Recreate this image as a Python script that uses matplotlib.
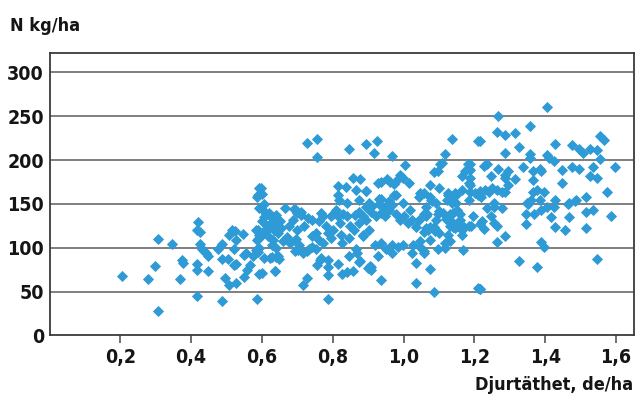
import matplotlib
matplotlib.use("Agg")
import matplotlib.pyplot as plt
from matplotlib.ticker import FixedLocator

x_ticks = [0.2, 0.4, 0.6, 0.8, 1.0, 1.2, 1.4, 1.6]
x_tick_labels = ["0,2", "0,4", "0,6", "0,8", "1,0", "1,2", "1,4", "1,6"]
y_ticks = [0, 50, 100, 150, 200, 250, 300]
y_label = "N kg/ha"
x_label = "Djurtäthet, de/ha"

pts_a = [(0.206,68),(0.277,64),(0.297,79),(0.307,110),(0.307,28),(0.345,104),(0.368,64),(0.375,86),
         (0.377,83),(0.416,81),(0.416,75),(0.416,45),(0.42,129),(0.416,120),(0.426,118),(0.424,104),
         (0.431,99),(0.437,96),(0.443,94),(0.448,90),(0.447,74),(0.477,99),(0.486,104),(0.486,87),(0.487,39),
         (0.497,66),(0.505,87),(0.507,58),(0.508,115),(0.516,120),(0.52,99),(0.525,119),(0.527,109),
         (0.52,80),(0.527,82),(0.527,60),(0.546,116),(0.548,92),(0.555,94),(0.548,67),(0.557,75),(0.565,80),
         (0.576,90),(0.584,97),(0.584,120),(0.585,109),(0.587,41),(0.587,158),(0.591,145),(0.591,168),
         (0.591,70)]
pts_b = [(0.597,168),(0.59,160),(0.6,161),(0.606,150),(0.6,144),(0.59,120),(0.592,115),(0.59,110),
         (0.593,100),(0.59,95),(0.606,88),(0.6,71),(0.6,130),(0.605,135),(0.612,138),(0.62,140),
         (0.599,115),(0.608,120)]
pts_c = [(0.63,135),(0.638,132),(0.627,89),(0.64,89),(0.638,74),(0.64,100),(0.617,113),(0.63,109),
         (0.627,103),(0.646,117),(0.623,88),(0.646,90),(0.636,74),(0.647,87),(0.666,145),(0.691,144),
         (0.7,140),(0.62,137),(0.64,137),(0.615,125),(0.625,128),(0.64,126),(0.65,130),(0.62,122),
         (0.635,120),(0.655,122),(0.687,132),(0.711,137),(0.709,141),(0.73,134),(0.741,132),(0.696,143),
         (0.696,110),(0.706,103),(0.717,94),(0.734,99),(0.741,113),(0.694,96),(0.703,97),(0.726,96),
         (0.753,99),(0.741,101),(0.726,66),(0.715,57),(0.726,220),(0.756,224),(0.756,203),(0.68,105),
         (0.67,112),(0.66,108),(0.676,125),(0.70,120),(0.72,125)]
pts_d = [(0.753,117),(0.762,109),(0.771,105),(0.786,117),(0.795,111),(0.8,120),(0.822,115),(0.826,105),
         (0.766,140),(0.773,136),(0.794,136),(0.8,139),(0.809,143),(0.815,136),(0.83,138),(0.839,136),
         (0.816,170),(0.837,169),(0.856,179),(0.877,178),(0.865,166),(0.895,165),(0.815,160),(0.818,154),
         (0.839,151),(0.873,154),(0.756,80),(0.766,88),(0.786,78),(0.786,69),(0.816,82),(0.826,70),
         (0.839,72),(0.856,74),(0.845,90),(0.875,84),(0.907,78),(0.907,75),(0.786,42),(0.764,86),
         (0.786,86),(0.867,94),(0.877,85),(0.9,77),(0.845,213),(0.895,218),(0.925,222),(0.916,208),
         (0.967,205),(0.846,111),(0.865,99),(0.886,113),(0.903,120),(0.918,103),(0.863,137),(0.875,141),
         (0.884,136),(0.895,132),(0.903,146),(0.908,141),(0.923,136),(0.937,140),(0.948,136),(0.959,143),
         (0.978,139),(0.991,132),(0.903,151),(0.912,148),(0.893,147),(0.937,156),(0.959,153),(0.948,147),
         (0.968,149),(0.978,160),(0.927,174),(0.937,175),(0.954,178),(0.963,175),(0.972,173),(0.99,183),
         (0.997,179),(0.984,178),(1.015,174),(1.004,194),(0.82,128),(0.85,125),(0.86,120),(0.78,125),
         (0.76,130),(0.875,128),(0.886,115),(0.93,155),(0.93,150),(0.974,160),(0.893,165)]
pts_e = [(0.937,105),(0.95,99),(0.968,103),(0.984,101),(0.997,103),(1.027,103),(1.047,101),(1.057,96),
         (1.075,109),(1.091,120),(0.927,90),(0.967,94),(1.096,98),(1.117,100),(1.117,105),(1.168,97),
         (1.046,108),(1.087,49),(1.036,60),(0.937,63),(1.075,76),(1.036,83),(0.906,79),(1.023,94),
         (1.057,94),(1.0,136),(1.012,128),(1.023,132),(1.034,124),(1.044,132),(1.062,136),(1.074,124),
         (1.091,132),(1.096,139),(0.997,151),(1.017,143),(1.044,158),(1.059,162),(1.077,154),(1.075,172),
         (1.1,168),(1.087,186),(1.117,207),(1.109,197),(1.104,195),(1.096,187),(1.136,224),(1.211,222),
         (1.046,162),(1.126,162),(1.147,160),(1.203,162),(1.185,154),(1.126,115),(1.166,115),
         (1.062,147),(1.057,139),(1.066,138),(1.081,153),(1.091,151),(1.075,158),(1.125,160),(1.137,158),
         (1.145,162),(1.122,154),(1.137,151),(1.148,151),(1.165,166),(1.184,174),(1.165,182),(1.174,187),
         (1.184,190),(1.182,196),(1.1,142),(1.11,140),(1.13,138),(1.14,140),(1.15,143),(1.16,138),
         (1.12,133),(1.13,130),(1.14,128),(1.15,127),(1.16,132),(1.14,124),(1.13,125),(1.17,124),
         (1.145,122),(1.057,118),(1.062,122),(1.07,120),(1.085,124),(1.09,119),(1.1,117),(1.13,108),
         (1.165,120),(1.19,125),(1.211,54),(1.216,53)]
pts_f = [(1.406,260),(1.267,250),(1.356,239),(1.265,232),(1.286,229),(1.316,231),(1.217,222),(1.427,218),
         (1.325,215),(1.286,208),(1.476,217),(1.496,213),(1.506,208),(1.526,213),(1.545,211),(1.556,227),
         (1.566,223),(1.356,207),(1.356,202),(1.406,206),(1.41,202),(1.425,199),(1.556,201),(1.188,196),
         (1.188,189),(1.188,179),(1.188,171),(1.188,163),(1.226,193),(1.235,196),(1.267,190),(1.246,182),
         (1.286,183),(1.295,188),(1.286,179),(1.337,192),(1.365,187),(1.365,177),(1.386,190),(1.387,187),
         (1.446,189),(1.476,192),(1.496,190),(1.536,192),(1.526,182),(1.547,179),(1.596,192),(1.316,178),
         (1.446,174),(1.295,172),(1.21,160),(1.22,158),(1.23,166),(1.24,163),(1.25,168),(1.215,165),
         (1.265,166),(1.277,164),(1.286,164),(1.365,164),(1.376,166),(1.397,164),(1.575,163),(1.515,158),
         (1.427,154),(1.466,151),(1.487,154),(1.348,151),(1.359,154),(1.385,154),(1.217,53),(1.325,85),
         (1.376,78),(1.545,87),(1.387,107),(1.397,101),(1.265,107),(1.286,113),(1.346,127),(1.427,124),
         (1.457,120),(1.515,123),(1.587,136),(1.515,141),(1.536,143),(1.466,135),(1.415,135),(1.196,136),
         (1.222,131),(1.217,127),(1.226,121),(1.246,136),(1.235,145),(1.256,128),(1.265,125),(1.277,145),
         (1.185,125),(1.346,139),(1.367,139),(1.387,143),(1.404,146),(1.425,146),(1.464,150),(1.485,153),
         (1.256,151),(1.256,147),(1.352,150)]

pts = pts_a + pts_b + pts_c + pts_d + pts_e + pts_f
xs = [p[0] for p in pts]
ys = [p[1] for p in pts]

fig = plt.figure(figsize=(6.35, 3.96), dpi=100)
ax = fig.add_axes([0.078, 0.153, 0.92, 0.713])
ax.set_xlim(0, 1.65)
ax.set_ylim(0, 322)

for yv in y_ticks[1:]:
    ax.axhline(yv, color="#7f7f7f", lw=1.4, zorder=1)

ax.plot(xs, ys, linestyle="none", marker="D", ms=4.7, mew=0.6, color="#2e9ad6", mec="#2e9ad6", zorder=3)

for s in ax.spines.values():
    s.set_color("#3a3a3a")
    s.set_linewidth(1.3)

tick_font = dict(family="DejaVu Sans", stretch="condensed", weight="bold", size=14, color="#151515")
lab_font = dict(family="DejaVu Sans", stretch="condensed", weight="bold", size=13, color="#151515")
ax.xaxis.set_major_locator(FixedLocator(x_ticks))
ax.set_xticklabels(x_tick_labels, **tick_font)
ax.yaxis.set_major_locator(FixedLocator(y_ticks))
ax.set_yticklabels([str(v) for v in y_ticks], **tick_font)
ax.tick_params(axis="x", length=6, width=1.2, color="#555555", pad=3)
ax.tick_params(axis="y", length=0, pad=4)

fig.text(0.015, 0.935, y_label, ha="left", va="center", **lab_font)
fig.text(0.997, 0.028, x_label, ha="right", va="center", **lab_font)

fig.savefig("out.png", dpi=100)
